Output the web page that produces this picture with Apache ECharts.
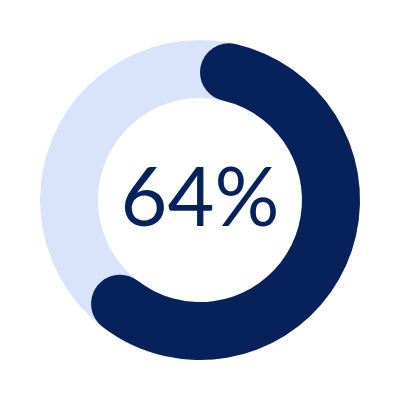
<!DOCTYPE html>
<html lang="en">
<head>
<meta charset="utf-8">
<title>64%</title>
<script src="https://cdn.jsdelivr.net/npm/echarts@6/dist/echarts.min.js"></script>
<style>
  html, body { margin: 0; padding: 0; background: #fff; }
  #main { width: 400px; height: 400px; }
</style>
</head>
<body>
<div id="main"></div>
<script type="text/javascript">
// progress value and the remaining part of the ring
var names = ['done', 'rest'];
var values = [64, 36];
var track = [100];

var navy = '#07225a';
var light = '#d9e4fa';

function chart1() {
    var myChart = echarts.init(document.getElementById('main'));

    var option = {
        animation: false,
        title: {
            text: values[0] + '%',
            left: 'center',
            top: 'middle',
            textStyle: {
                fontFamily: 'Lato',
                fontWeight: 400,
                fontSize: 81,
                color: navy
            }
        },
        series: [{
            // background ring
            type: 'pie',
            silent: true,
            center: ['50%', '50%'],
            radius: [102, 160],
            label: { show: false },
            labelLine: { show: false },
            data: [{ value: track[0], name: 'track', itemStyle: { color: light } }]
        }, {
            type: 'pie',
            silent: true,
            center: ['50%', '50%'],
            radius: [102, 160],
            startAngle: 90,
            clockwise: true,
            label: { show: false },
            labelLine: { show: false },
            data: [{
                value: values[0], name: names[0],
                itemStyle: { color: navy, borderRadius: 29 }
            }, {
                value: values[1], name: names[1],
                itemStyle: { color: 'rgba(0,0,0,0)' }
            }]
        }]
    };

    myChart.setOption(option);
}
window.onload = function () {
    chart1();
};
</script>
</body>
</html>
